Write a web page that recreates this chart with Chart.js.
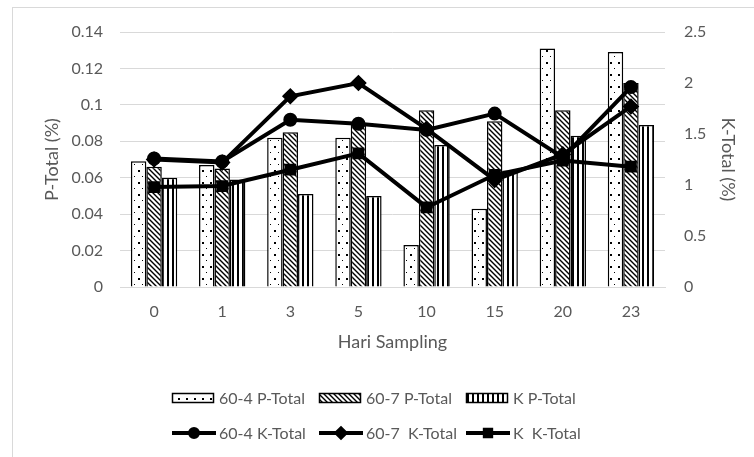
<!DOCTYPE html>
<html>
<head>
<meta charset="utf-8">
<script src="https://cdn.jsdelivr.net/npm/chart.js@4/dist/chart.umd.min.js"></script>
<style>
  html, body { margin: 0; padding: 0; background: #ffffff; }
  #wrap { position: relative; width: 754px; height: 457px; overflow: hidden; }
  canvas { display: block; }
</style>
</head>
<body>
<div id="wrap"><canvas id="chart" width="754" height="457"></canvas></div>
<script>
// Sampling days
const days = ['0', '1', '3', '5', '10', '15', '20', '23'];

// P-Total (%) per treatment, left axis
const p60_4 = [0.069, 0.067, 0.082, 0.082, 0.023, 0.043, 0.131, 0.129];
const p60_7 = [0.066, 0.065, 0.085, 0.089, 0.097, 0.091, 0.097, 0.112];
const pK    = [0.060, 0.059, 0.051, 0.050, 0.078, 0.064, 0.083, 0.089];

// K-Total (%) per treatment, right axis
const k60_4 = [1.26, 1.23, 1.64, 1.60, 1.54, 1.70, 1.27, 1.96];
const k60_7 = [1.25, 1.22, 1.87, 2.00, 1.55, 1.05, 1.30, 1.77];
const kK    = [0.98, 0.99, 1.15, 1.31, 0.78, 1.10, 1.24, 1.18];

// Axis tick labels
const pTicks = [0, 0.02, 0.04, 0.06, 0.08, 0.1, 0.12, 0.14];
const kTicks = [0, 0.5, 1, 1.5, 2, 2.5];

const FONT = 'Lato, "Open Sans", sans-serif';
const GREY = '#595959';

// ---- fill patterns for the bars ----
function makePattern(w, h, draw) {
  const c = document.createElement('canvas');
  c.width = w; c.height = h;
  const g = c.getContext('2d');
  g.fillStyle = '#ffffff';
  g.fillRect(0, 0, w, h);
  g.fillStyle = '#000000';
  g.strokeStyle = '#000000';
  draw(g, w, h);
  return document.getElementById('chart').getContext('2d').createPattern(c, 'repeat');
}
const dotPattern = makePattern(8, 12, (g) => {
  g.fillRect(2, 2, 2, 2);
  g.fillRect(6, 8, 1, 1);
});
const diagPattern = makePattern(5, 5, (g, w, h) => {
  g.lineWidth = 1.4;
  g.beginPath();
  g.moveTo(-1, -1); g.lineTo(w + 1, h + 1);
  g.moveTo(-1, h - 1); g.lineTo(1, h + 1);
  g.moveTo(w - 1, -1); g.lineTo(w + 1, 1);
  g.stroke();
});
const vertPattern = makePattern(5, 4, (g) => {
  g.fillRect(2, 0, 2, 4);
});

// ---- outer frame ----
const framePlugin = {
  id: 'frame',
  beforeDraw(chart) {
    const ctx = chart.ctx;
    ctx.save();
    ctx.fillStyle = '#ffffff';
    ctx.fillRect(0, 0, chart.width, chart.height);
    ctx.strokeStyle = '#d9d9d9';
    ctx.lineWidth = 1;
    ctx.strokeRect(12.5, 7.5, 800, 500);
    ctx.restore();
  }
};

// ---- two-row legend ----
const legendPlugin = {
  id: 'twoRowLegend',
  afterDraw(chart) {
    const ctx = chart.ctx;
    const ds = chart.data.datasets;
    const cols = [172, 319, 466];
    const rows = [398, 433];
    ctx.save();
    ctx.font = '16px ' + FONT;
    ctx.textBaseline = 'middle';
    ctx.textAlign = 'left';
    ds.forEach((d, i) => {
      const row = d.type === 'line' ? 1 : 0;
      const col = row === 0 ? i : i - 3;
      const x = cols[col], y = rows[row];
      if (row === 0) {
        ctx.fillStyle = d.backgroundColor;
        ctx.fillRect(x, y - 5, 42, 10);
        ctx.strokeStyle = '#000';
        ctx.lineWidth = 1.5;
        ctx.strokeRect(x + 0.5, y - 4.5, 41, 9);
      } else {
        ctx.strokeStyle = '#000';
        ctx.lineWidth = 4;
        ctx.beginPath();
        ctx.moveTo(x, y); ctx.lineTo(x + 44, y);
        ctx.stroke();
        ctx.fillStyle = '#000';
        Chart.helpers.drawPoint(ctx, {
          pointStyle: d.pointStyle, radius: d.pointRadius - 1, rotation: 0, borderWidth: 1
        }, x + 22, y);
      }
      ctx.fillStyle = GREY;
      ctx.fillText(d.label, x + 47, y + 1);
    });
    ctx.restore();
  }
};

function barSet(label, data, pattern) {
  return {
    type: 'bar', label, data, yAxisID: 'y',
    backgroundColor: pattern, borderColor: '#000000', borderWidth: 1.5,
    categoryPercentage: 0.68, barPercentage: 1, order: 2
  };
}
function lineSet(label, data, style, radius) {
  return {
    type: 'line', label, data, yAxisID: 'y1',
    borderColor: '#000000', backgroundColor: '#000000', borderWidth: 4,
    pointStyle: style, pointRadius: radius, pointHoverRadius: radius,
    pointBorderColor: '#000000', pointBackgroundColor: '#000000',
    tension: 0, order: 1
  };
}

new Chart(document.getElementById('chart'), {
  data: {
    labels: days,
    datasets: [
      barSet('60-4 P-Total', p60_4, dotPattern),
      barSet('60-7 P-Total', p60_7, diagPattern),
      barSet('K P-Total', pK, vertPattern),
      lineSet('60-4 K-Total', k60_4, 'circle', 5),
      lineSet('60-7  K-Total', k60_7, 'rectRot', 5.5),
      lineSet('K  K-Total', kK, 'rect', 5.5)
    ]
  },
  options: {
    responsive: false,
    animation: false,
    events: [],
    layout: { padding: { top: 32, bottom: 100, left: 0, right: 0 } },
    plugins: { legend: { display: false }, tooltip: { enabled: false } },
    scales: {
      x: {
        grid: { display: false, drawTicks: false },
        border: { display: true, color: '#d9d9d9', width: 1 },
        ticks: { color: GREY, font: { family: FONT, size: 16 }, padding: 15 },
        title: {
          display: true, text: 'Hari Sampling', color: GREY,
          font: { family: FONT, size: 18 }, padding: { top: 0, bottom: 4 }
        },
        afterFit(s) { s.height = 70; }
      },
      y: {
        position: 'left', min: 0, max: 0.14,
        grid: { color: '#d9d9d9', lineWidth: 1, drawTicks: false },
        border: { display: false },
        afterBuildTicks(s) { s.ticks = pTicks.map(v => ({ value: v })); },
        ticks: {
          color: GREY, font: { family: FONT, size: 16 }, padding: 17,
          callback: (v) => String(Number(v.toFixed(2)))
        },
        title: {
          display: true, text: 'P-Total (%)', color: GREY,
          font: { family: FONT, size: 18 }, padding: { top: 41 }
        },
        afterFit(s) { s.width = 120; }
      },
      y1: {
        position: 'right', min: 0, max: 2.5,
        grid: { display: false, drawTicks: false },
        border: { display: false },
        afterBuildTicks(s) { s.ticks = kTicks.map(v => ({ value: v })); },
        ticks: {
          color: GREY, font: { family: FONT, size: 16 }, padding: 19,
          callback: (v) => String(Number(v.toFixed(1)))
        },
        title: {
          display: true, text: 'K-Total (%)', color: GREY,
          font: { family: FONT, size: 18 }, padding: { top: 15 }
        },
        afterFit(s) { s.width = 89; }
      }
    }
  },
  plugins: [framePlugin, legendPlugin]
});
</script>
</body>
</html>
